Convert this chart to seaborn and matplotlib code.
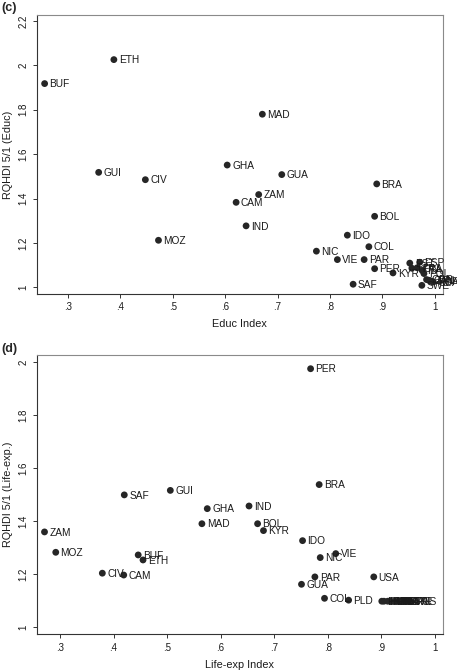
import matplotlib.pyplot as plt
import pandas as pd
import seaborn as sns

sns.set_style("white")
plt.rcParams["font.family"] = ["Liberation Sans", "DejaVu Sans"]

# Panel (c): education index vs RQHDI 5/1 (Educ)
educ_codes = [
    "BUF", "ETH", "MAD", "GUI", "CIV", "GHA", "GUA", "BRA", "ZAM", "CAM",
    "BOL", "IND", "IDO", "MOZ", "COL", "NIC", "VIE", "PAR", "PER", "KYR",
    "SAF", "SWE", "EST", "ESP", "HUN", "FRA", "ITA", "POL", "GBR", "CAN",
    "JPN", "NOR", "USA",
]
educ_x = [
    0.256, 0.388, 0.671, 0.359, 0.448, 0.604, 0.708, 0.889, 0.664, 0.621,
    0.885, 0.640, 0.833, 0.473, 0.874, 0.774, 0.814, 0.865, 0.885, 0.920,
    0.844, 0.975, 0.952, 0.971, 0.956, 0.966, 0.976, 0.979, 0.984, 0.988,
    0.991, 0.994, 0.997,
]
educ_y = [
    1.918, 2.026, 1.780, 1.518, 1.485, 1.551, 1.508, 1.466, 1.418, 1.383,
    1.320, 1.277, 1.235, 1.212, 1.183, 1.163, 1.125, 1.125, 1.084, 1.065,
    1.014, 1.009, 1.109, 1.113, 1.086, 1.088, 1.075, 1.062, 1.035, 1.032,
    1.030, 1.027, 1.024,
]

# Panel (d): life-expectancy index vs RQHDI 5/1 (Life-exp.)
life_codes = [
    "PER", "BRA", "SAF", "GUI", "GHA", "IND", "MAD", "BOL", "KYR", "ZAM",
    "IDO", "MOZ", "BUF", "ETH", "VIE", "NIC", "CIV", "CAM", "PAR", "USA",
    "GUA", "COL", "PLD", "EST", "HUN", "POL", "ESP", "FRA", "ITA", "GBR",
    "SWE", "JPN", "RUS",
]
life_x = [
    0.768, 0.784, 0.420, 0.506, 0.575, 0.653, 0.565, 0.669, 0.680, 0.271,
    0.753, 0.292, 0.446, 0.455, 0.815, 0.786, 0.379, 0.419, 0.776, 0.886,
    0.751, 0.794, 0.839, 0.901, 0.905, 0.912, 0.918, 0.925, 0.932, 0.938,
    0.944, 0.950, 0.955,
]
life_y = [
    1.976, 1.538, 1.499, 1.516, 1.447, 1.457, 1.390, 1.390, 1.364, 1.359,
    1.326, 1.282, 1.272, 1.253, 1.277, 1.262, 1.203, 1.196, 1.189, 1.189,
    1.161, 1.108, 1.101, 1.097, 1.097, 1.097, 1.097, 1.097, 1.097, 1.097,
    1.097, 1.097, 1.097,
]

x_ticks = [0.3, 0.4, 0.5, 0.6, 0.7, 0.8, 0.9, 1.0]
x_tick_labels = [".3", ".4", ".5", ".6", ".7", ".8", ".9", "1"]
educ_yticks = [1.0, 1.2, 1.4, 1.6, 1.8, 2.0, 2.2]
educ_ytick_labels = ["1", "1.2", "1.4", "1.6", "1.8", "2", "2.2"]
life_yticks = [1.0, 1.2, 1.4, 1.6, 1.8, 2.0]
life_ytick_labels = ["1", "1.2", "1.4", "1.6", "1.8", "2"]

fig = plt.figure(figsize=(4.57, 6.70), dpi=100)
ax_c = fig.add_axes([0.081, 0.5612, 0.888, 0.4164])
ax_d = fig.add_axes([0.081, 0.0533, 0.888, 0.4173])


def draw_panel(ax, codes, xs, ys, xlabel, ylabel, xlim, ylim, yticks, yticklabels):
    df = pd.DataFrame({"code": codes, "x": xs, "y": ys})
    sns.scatterplot(
        data=df, x="x", y="y", ax=ax, color="#262626", s=24,
        edgecolor="none", linewidth=0, legend=False, clip_on=False,
    )
    for _, row in df.iterrows():
        ax.annotate(
            row["code"], (row["x"], row["y"]), xytext=(3.5, -0.5),
            textcoords="offset points", fontsize=7.3, va="center", ha="left",
            color="#1a1a1a", annotation_clip=False,
        )
    ax.set_xlim(*xlim)
    ax.set_ylim(*ylim)
    ax.set_xticks(x_ticks)
    ax.set_xticklabels(x_tick_labels)
    ax.set_yticks(yticks)
    ax.set_yticklabels(yticklabels, rotation=90, va="center")
    ax.tick_params(axis="both", direction="out", length=3, width=0.7,
                   color="#333333", labelsize=7, pad=3, labelcolor="#1a1a1a")
    ax.tick_params(axis="both", bottom=True, left=True)
    ax.set_xlabel(xlabel, fontsize=7.8, color="#1a1a1a", labelpad=5)
    ax.set_ylabel(ylabel, fontsize=7.8, color="#1a1a1a", labelpad=4)
    for side in ["left", "bottom"]:
        ax.spines[side].set_color("#333333")
        ax.spines[side].set_linewidth(0.8)
    for side in ["top", "right"]:
        ax.spines[side].set_color("#8a8a8a")
        ax.spines[side].set_linewidth(0.8)


draw_panel(ax_c, educ_codes, educ_x, educ_y, "Educ Index", "RQHDI 5/1 (Educ)",
           (0.2415, 1.015), (0.970, 2.227), educ_yticks, educ_ytick_labels)
draw_panel(ax_d, life_codes, life_x, life_y, "Life-exp Index", "RQHDI 5/1 (Life-exp.)",
           (0.257, 1.015), (0.972, 2.029), life_yticks, life_ytick_labels)

fig.text(0.004, 1 - 8 / 670, "(c)", fontsize=9, fontweight="bold", va="center", ha="left")
fig.text(0.004, 1 - 349 / 670, "(d)", fontsize=9, fontweight="bold", va="center", ha="left")

fig.savefig("out.png", dpi=100)
